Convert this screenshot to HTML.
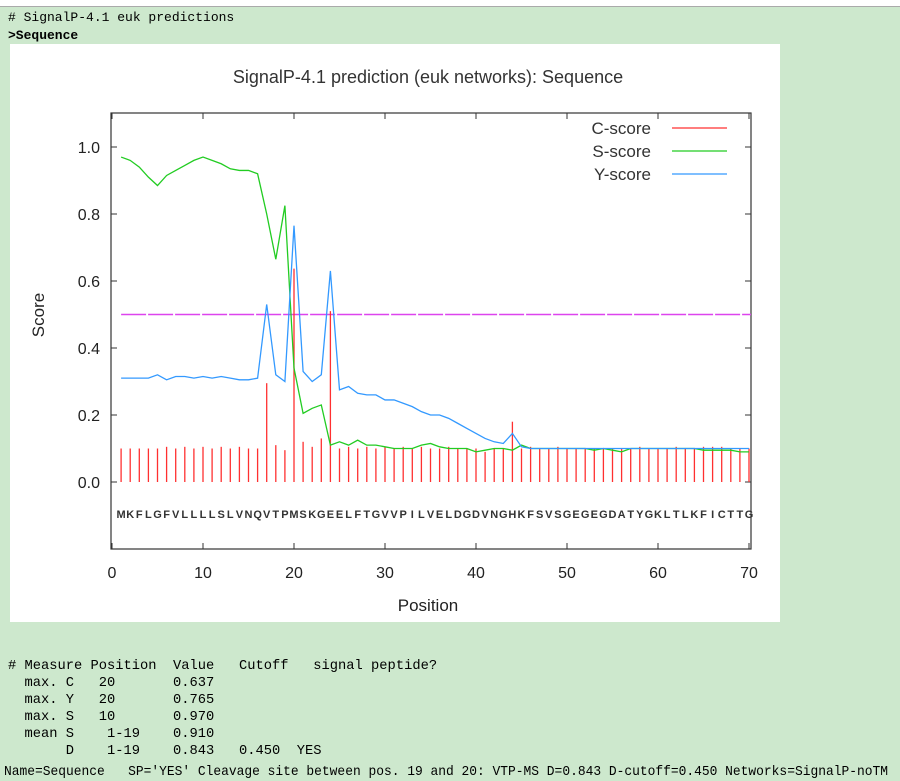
<!DOCTYPE html>
<html><head><meta charset="utf-8"><style>
body{margin:0;width:900px;height:780px;background:#cde8cd;overflow:hidden;font-family:"Liberation Mono",monospace;position:relative}
.t{position:absolute;left:8px;font-size:13px;white-space:pre;color:#000}
.m{font-family:"Liberation Mono",monospace;font-size:13.75px;line-height:17px}
#top{position:absolute;left:0;top:0;width:900px;height:6px;background:#fff;border-bottom:1px solid #aaa}
svg{position:absolute;left:0;top:0}
</style></head><body>
<div id="top"></div>
<div class="t" style="top:10px"># SignalP-4.1 euk predictions</div>
<div class="t" style="top:28px;font-weight:bold">&gt;Sequence</div>
<svg width="900" height="780" id="chart">
<rect x="10" y="44" width="770" height="578" fill="#fff"/>
<text x="428" y="83" text-anchor="middle" font-family="Liberation Sans" font-size="18" fill="#333">SignalP-4.1 prediction (euk networks): Sequence</text>
<rect x="111" y="113" width="640" height="436" fill="none" stroke="#333" stroke-width="1.2"/>
<text x="44" y="315" text-anchor="middle" font-family="Liberation Sans" font-size="17" fill="#222" transform="rotate(-90 44 315)">Score</text>
<text x="428" y="611" text-anchor="middle" font-family="Liberation Sans" font-size="17" fill="#222">Position</text>
<g id="ticks"></g><g id="marks"></g>
<g font-family="Liberation Sans" font-size="17" fill="#333" text-anchor="end">
<text x="651" y="134">C-score</text>
<text x="651" y="157">S-score</text>
<text x="651" y="180">Y-score</text>
</g>
<line x1="672" x2="727" y1="128" y2="128" stroke="#ff3030" stroke-width="1.2"/>
<line x1="672" x2="727" y1="151" y2="151" stroke="#22cc22" stroke-width="1.2"/>
<line x1="672" x2="727" y1="174" y2="174" stroke="#3399ff" stroke-width="1.2"/>
</svg>
<div class="t m" style="top:658px"># Measure Position  Value   Cutoff   signal peptide?
  max. C   20       0.637
  max. Y   20       0.765
  max. S   10       0.970
  mean S    1-19    0.910
       D    1-19    0.843   0.450  YES
</div>
<div class="t m" id="summary" style="top:764px;left:4px;transform-origin:0 0">Name=Sequence   SP='YES' Cleavage site between pos. 19 and 20: VTP-MS D=0.843 D-cutoff=0.450 Networks=SignalP-noTM</div>
<script>
const sequence="MKFLGFVLLLLSLVNQVTPMSKGEELFTGVVPILVELDGDVNGHKFSVSGEGEGDATYGKLTLKFICTTG";
const xTicks=[0,10,20,30,40,50,60,70];
const yTicks=["0.0","0.2","0.4","0.6","0.8","1.0"];
const cutoff=0.5;
const cScore=[0.10,0.10,0.10,0.10,0.10,0.105,0.10,0.105,0.10,0.105,0.10,0.105,0.10,0.105,0.10,0.10,0.295,0.11,0.095,0.637,0.12,0.105,0.13,0.51,0.10,0.105,0.10,0.105,0.10,0.105,0.10,0.105,0.10,0.105,0.10,0.10,0.105,0.10,0.10,0.10,0.09,0.10,0.10,0.18,0.10,0.105,0.10,0.10,0.105,0.10,0.10,0.10,0.10,0.10,0.10,0.10,0.10,0.105,0.10,0.10,0.10,0.105,0.10,0.10,0.105,0.105,0.105,0.10,0.10,0.10];
const sScore=[0.97,0.96,0.94,0.91,0.885,0.915,0.93,0.945,0.96,0.97,0.96,0.95,0.935,0.93,0.93,0.92,0.80,0.665,0.825,0.34,0.205,0.22,0.23,0.11,0.12,0.11,0.125,0.11,0.11,0.105,0.10,0.10,0.10,0.11,0.115,0.105,0.10,0.10,0.10,0.09,0.095,0.10,0.10,0.095,0.11,0.10,0.10,0.10,0.10,0.10,0.10,0.10,0.095,0.10,0.095,0.09,0.10,0.10,0.10,0.10,0.10,0.10,0.10,0.10,0.095,0.095,0.095,0.095,0.09,0.09];
const yScore=[0.31,0.31,0.31,0.31,0.32,0.305,0.315,0.315,0.31,0.315,0.31,0.315,0.31,0.305,0.305,0.31,0.53,0.32,0.30,0.765,0.33,0.30,0.32,0.63,0.275,0.285,0.265,0.26,0.26,0.245,0.245,0.235,0.225,0.21,0.20,0.20,0.19,0.175,0.16,0.145,0.13,0.12,0.115,0.145,0.105,0.10,0.10,0.10,0.10,0.10,0.10,0.10,0.10,0.10,0.10,0.10,0.10,0.10,0.10,0.10,0.10,0.10,0.10,0.10,0.10,0.10,0.10,0.10,0.10,0.10];
const NS="http://www.w3.org/2000/svg";
function X(p){return 112+9.1*p;}
function Y(v){return 482-335*v;}
function mk(tag,at,parent){const e=document.createElementNS(NS,tag);for(const k in at)e.setAttribute(k,at[k]);parent.appendChild(e);return e;}
const tk=document.getElementById('ticks'),mg=document.getElementById('marks');
xTicks.forEach(t=>{
 let l=mk('line',{x1:X(t),x2:X(t),y1:549,y2:543,stroke:'#333'},tk);
 
 
 let l2=mk('line',{x1:X(t),x2:X(t),y1:113,y2:119,stroke:'#333'},tk);
 
 
 let tx=mk('text',{x:X(t),y:578,'text-anchor':'middle','font-family':'Liberation Sans','font-size':16,fill:'#222'},tk);tx.textContent=t;
 
 
});
yTicks.forEach(t=>{const v=parseFloat(t);
 let l=mk('line',{x1:111,x2:117,y1:Y(v),y2:Y(v),stroke:'#333'},tk);
 
 
 let l2=mk('line',{x1:745,x2:751,y1:Y(v),y2:Y(v),stroke:'#333'},tk);
 
 
 let tx=mk('text',{x:100,y:Y(v)+6,'text-anchor':'end','font-family':'Liberation Sans','font-size':16,fill:'#222'},tk);tx.textContent=t;
 
 
});
let cl=mk('line',{x1:X(1),x2:751,y1:Y(cutoff),y2:Y(cutoff),stroke:'#dd44ee','stroke-width':1.5,'stroke-dasharray':'25 2'},mg);


cScore.forEach((v,i)=>{
 let b=mk('line',{x1:X(i+1),x2:X(i+1),y1:Y(0),y2:Y(v),stroke:'#ff3030','stroke-width':1.3},mg);
 
 
});
function poly(arr,col,name){
 let p=mk('polyline',{points:arr.map((v,i)=>X(i+1)+','+Y(v)).join(' '),fill:'none',stroke:col,'stroke-width':1.3},mg);
 
 
}
poly(sScore,'#22cc22','s-score-line');
poly(yScore,'#3399ff','y-score-line');
for(let i=0;i<sequence.length;i++){
 let t=mk('text',{x:X(i+1),y:518,'text-anchor':'middle','font-family':'Liberation Sans','font-size':11,'font-weight':'bold',fill:'#333'},mg);
 t.textContent=sequence[i];
 
 
}
const sm=document.getElementById('summary');
const w=sm.getBoundingClientRect().width;
sm.style.transform='scaleX('+(884/w)+')';
</script>
</body></html>
